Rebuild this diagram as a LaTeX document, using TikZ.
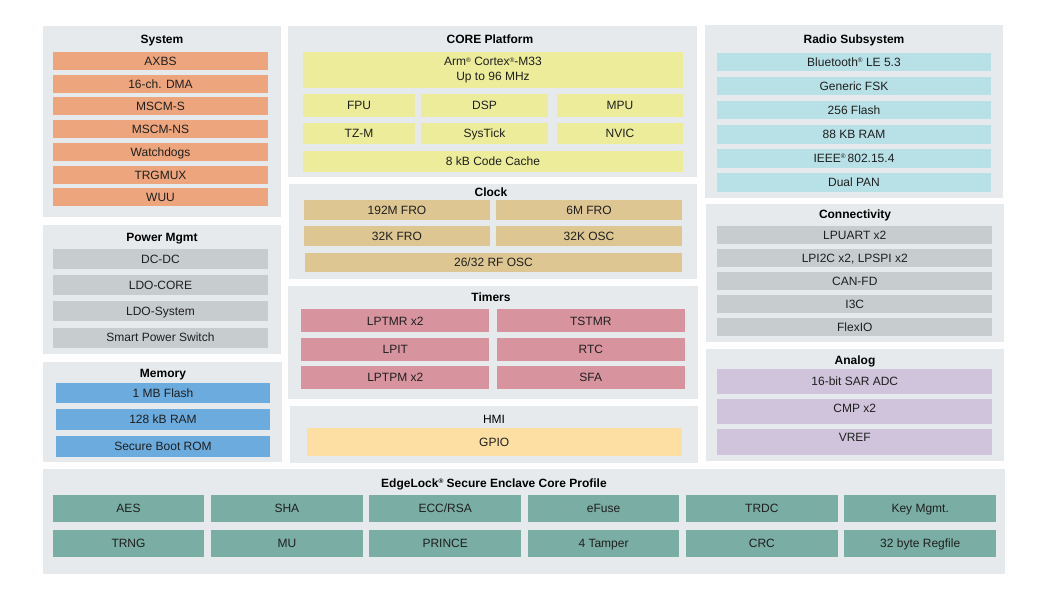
\documentclass[tikz,border=0pt]{standalone}
\usepackage{fontspec}
\setmainfont{Liberation Sans}

\definecolor{panelbg}{HTML}{E6EAEC}
\definecolor{sysorange}{HTML}{EDA57D}
\definecolor{coreyellow}{HTML}{ECEC9B}
\definecolor{radiocyan}{HTML}{B8E1E7}
\definecolor{pwrgray}{HTML}{C7CCCF}
\definecolor{memblue}{HTML}{6BABDD}
\definecolor{clktan}{HTML}{DDC692}
\definecolor{tmrpink}{HTML}{D8949E}
\definecolor{hmiamber}{HTML}{FDDFA4}
\definecolor{anapurple}{HTML}{CFC4DC}
\definecolor{seteal}{HTML}{7AADA3}

% small registered mark
\newcommand{\regmark}{\raisebox{3.6pt}{\fontsize{6.5}{7}\selectfont ®}}

\tikzset{
  panel/.style={fill=panelbg, inner sep=0pt, anchor=north west},
  ptitle/.style={font=\fontsize{12}{14.5}\selectfont\bfseries, inner sep=0pt, text height=8.6pt, text depth=0pt},
  blk/.style={inner sep=0pt, text=black!88, text height=8.6pt, text depth=0pt},
  sysblk/.style={blk, fill=sysorange, minimum width=215, minimum height=18},
  pwrblk/.style={blk, fill=pwrgray, minimum width=215, minimum height=20},
  memblk/.style={blk, fill=memblue, minimum width=214, minimum height=20.7},
  coreblk/.style={blk, fill=coreyellow, minimum height=21},
  clkblk/.style={blk, fill=clktan, minimum width=186, minimum height=20},
  tmrblk/.style={blk, fill=tmrpink, minimum width=188, minimum height=23},
  radblk/.style={blk, fill=radiocyan, minimum width=274, minimum height=18.7},
  conblk/.style={blk, fill=pwrgray, minimum width=275, minimum height=18.5},
  anablk/.style={blk, fill=anapurple, minimum width=275, minimum height=25.5},
  seblk/.style={blk, fill=seteal, minimum width=151.7, minimum height=26.7}
}

\begin{document}
\begin{tikzpicture}[x=1pt, y=-1pt, font=\fontsize{12}{14.5}\selectfont]
    \fill[white] (0,0) rectangle (1053,604);
    \useasboundingbox (0,0) rectangle (1053,604);

    % Panels
    \node[panel, minimum width=238, minimum height=191] (sysP) at (43,26) {};
    \node[panel, minimum width=238, minimum height=129] (pwrP) at (43,225) {};
    \node[panel, minimum width=239, minimum height=100] (memP) at (43,362) {};
    \node[panel, minimum width=409, minimum height=151] (coreP) at (288,26) {};
    \node[panel, minimum width=408, minimum height=95] (clkP) at (289,184) {};
    \node[panel, minimum width=410, minimum height=113] (tmrP) at (288,286) {};
    \node[panel, minimum width=408, minimum height=56.7] (hmiP) at (290,406) {};
    \node[panel, minimum width=298, minimum height=173] (radP) at (705,25) {};
    \node[panel, minimum width=298, minimum height=138] (conP) at (706,204) {};
    \node[panel, minimum width=298, minimum height=112] (anaP) at (706,349) {};
    \node[panel, minimum width=962, minimum height=105] (seP) at (43,469) {};

    % Titles
    \node[ptitle] (sysT) at (162,39) {System};
    \node[ptitle] (pwrT) at (162,237) {Power Mgmt};
    \node[ptitle] (memT) at (163,373) {Memory};
    \node[ptitle] (coreT) at (490,39) {CORE Platform};
    \node[ptitle] (clkT) at (491,192) {Clock};
    \node[ptitle] (tmrT) at (491,297) {Timers};
    \node[ptitle, font=\fontsize{12}{14.5}\selectfont] (hmiT) at (494,419) {HMI};
    \node[ptitle] (radT) at (854,39) {Radio Subsystem};
    \node[ptitle] (conT) at (855,214) {Connectivity};
    \node[ptitle] (anaT) at (855,360) {Analog};
    \node[ptitle] (seT) at (494,483) {EdgeLock\regmark{} Secure Enclave Core Profile};

    % System
    \foreach \t [count=\i] in {AXBS, 16-ch. DMA, MSCM-S, MSCM-NS, Watchdogs, TRGMUX, WUU}
      \node[sysblk] (sys\i) at (160.5,{61+22.75*(\i-1)}) {\t};

    % Power Mgmt
    \foreach \t [count=\i] in {DC-DC, LDO-CORE, LDO-System, Smart Power Switch}
      \node[pwrblk] (pwr\i) at (160.5,{259+26.2*(\i-1)}) {\t};

    % Memory
    \foreach \t [count=\i] in {1 MB Flash, 128 kB RAM, Secure Boot ROM}
      \node[memblk] (mem\i) at (163,{393+26.65*(\i-1)}) {\t};

    % CORE Platform
    \node[coreblk, minimum width=380, minimum height=36, text height=, text depth=, align=center]
      (arm) at (493,70) {Arm\regmark{} Cortex\regmark{}-M33\\Up to 96 MHz};
    \foreach \t/\x/\w [count=\i] in {FPU/359/112, DSP/484.5/127, MPU/620/126}
      \node[coreblk, minimum width=\w, minimum height=23] (coreA\i) at (\x,105.5) {\t};
    \foreach \t/\x/\w [count=\i] in {TZ-M/359/112, SysTick/484.5/127, NVIC/620/126}
      \node[coreblk, minimum width=\w] (coreB\i) at (\x,133.5) {\t};
    \node[coreblk, minimum width=380] (cache) at (493,161.5) {8 kB Code Cache};

    % Clock
    \node[clkblk] (fro192) at (397,210.3) {192M FRO};
    \node[clkblk] (fro6) at (589,210.3) {6M FRO};
    \node[clkblk] (fro32) at (397,236) {32K FRO};
    \node[clkblk] (osc32) at (589,236) {32K OSC};
    \node[clkblk, minimum width=377, minimum height=19] (rfosc) at (493.5,262.2) {26/32 RF OSC};

    % Timers
    \foreach \a/\b [count=\i] in {LPTMR x2/TSTMR, LPIT/RTC, LPTPM x2/SFA} {
      \node[tmrblk] (tmrL\i) at (395.3,{320.8+28.25*(\i-1)}) {\a};
      \node[tmrblk] (tmrR\i) at (590.8,{320.8+28.25*(\i-1)}) {\b};
    }

    % HMI
    \node[blk, fill=hmiamber, minimum width=375, minimum height=27.7] (gpio) at (494.2,442.2) {GPIO};

    % Radio Subsystem
    \foreach \t [count=\i] in {Bluetooth\regmark{} LE 5.3, Generic FSK, 256 Flash, 88 KB RAM,
        IEEE\regmark\,802.15.4, Dual PAN}
      \node[radblk] (rad\i) at (854,{62+24.06*(\i-1)}) {\t};

    % Connectivity
    \foreach \t [count=\i] in {LPUART x2, {LPI2C x2, LPSPI x2}, CAN-FD, I3C, FlexIO}
      \node[conblk] (con\i) at (854.8,{235+23.05*(\i-1)}) {\t};

    % Analog
    \node[anablk] (adc) at (854.8,381.5) {16-bit SAR ADC};
    \node[anablk, text depth=7pt] (cmp) at (854.8,411.7) {CMP x2};
    \node[anablk, text depth=9pt] (vref) at (854.8,442) {VREF};

    % EdgeLock Secure Enclave
    \foreach \t [count=\i] in {AES, SHA, ECC/RSA, eFuse, TRDC, Key Mgmt.}
      \node[seblk] (seA\i) at ({128.5+158.34*(\i-1)},508.3) {\t};
    \foreach \t [count=\i] in {TRNG, MU, PRINCE, 4 Tamper, CRC, 32 byte Regfile}
      \node[seblk] (seB\i) at ({128.5+158.34*(\i-1)},543.3) {\t};
  \end{tikzpicture}
\end{document}
